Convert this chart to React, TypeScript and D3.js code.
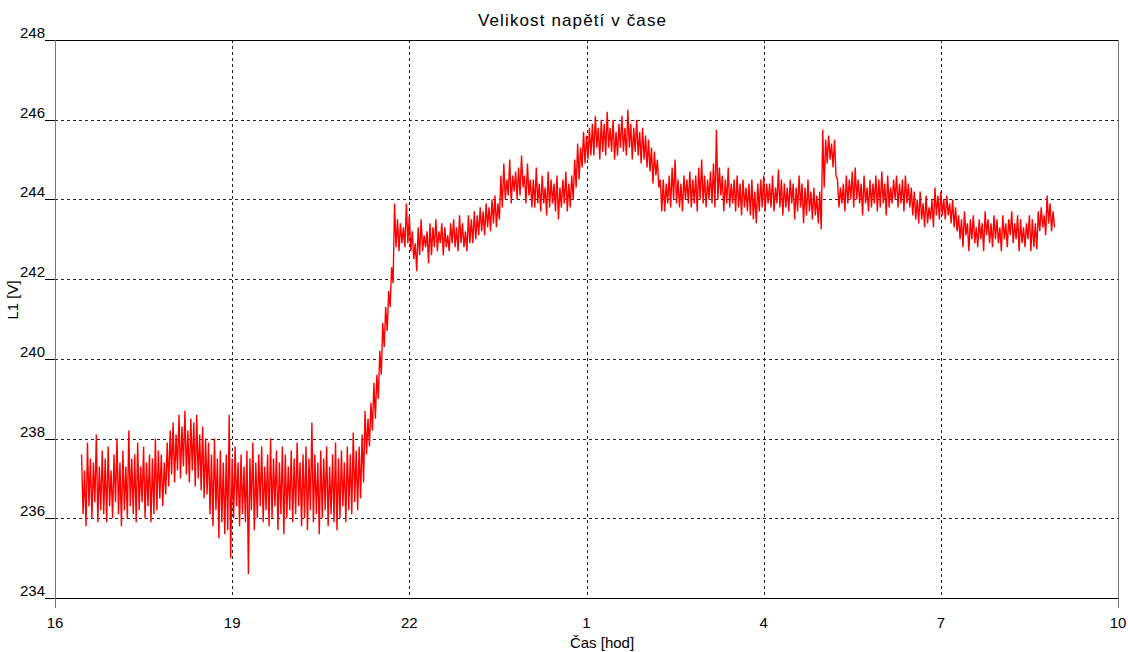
import React from "react";
import * as d3 from "d3";

const TITLE = "Velikost napětí v čase";
const X_LABEL = "Čas [hod]";
const Y_LABEL = "L1 [V]";
const X_TICKS = [16, 19, 22, 25, 28, 31, 34];
const X_TICK_LABELS = ["16", "19", "22", "1", "4", "7", "10"];
const Y_TICKS = [234, 236, 238, 240, 242, 244, 246, 248];
// 3-minute recording intervals, each with its max and min voltage
const START_HOUR = 16.45;
const STEP_HOURS = 0.05;
const V_MAX = [
  237.6, 237.2, 237.9, 237.5, 237.4, 238.1, 237.3, 237.7, 237.5, 237.8,
  237.2, 237.6, 238.0, 237.4, 237.7, 237.3, 238.2, 237.5, 237.6, 237.9,
  237.3, 237.8, 237.4, 237.6, 237.5, 238.0, 237.7, 237.6, 237.4,
  237.9, 238.2, 238.4, 238.1, 238.6, 238.3, 238.7, 238.2, 238.5, 238.4, 238.6, 238.1, 238.3, 238.0,
  237.9, 237.6, 238.0, 237.5, 237.7, 237.4, 237.6, 238.6,
  237.5, 237.8, 237.4, 237.6, 237.3, 237.7, 237.5, 237.9, 237.4, 237.6,
  237.8, 237.3, 237.6, 238.0, 237.5, 237.7, 237.4, 237.8, 237.6, 237.3,
  237.7, 237.5, 237.9, 237.4, 237.6, 237.8, 237.5, 238.4, 237.6, 237.4,
  237.7, 237.5, 237.8, 237.3, 237.6, 237.9, 237.5, 237.7, 237.4, 237.8,
  237.6, 238.15, 237.7,
  237.8, 238.1, 238.7, 238.5, 238.9, 239.4, 239.6, 240.2, 240.9, 241.3, 241.7, 242.3, 243.9,
  243.5, 243.4, 243.3, 243.9, 243.6, 243.2, 242.9, 243.3, 243.5, 243.1,
  243.2, 243.4, 243.3, 243.5, 243.2, 243.4, 243.3, 243.1, 243.4, 243.5,
  243.3, 243.6, 243.4, 243.2, 243.6,
  243.5, 243.7, 243.6, 243.8, 243.7, 243.9, 243.8, 244.0, 244.1, 243.9,
  244.6, 244.9, 244.5, 245.0, 244.6, 244.7, 244.8, 245.1, 244.6, 244.9, 244.5,
  244.5, 244.8, 244.4, 244.6, 244.3, 244.7, 244.5, 244.4, 244.6, 244.3, 244.5, 244.7, 244.4, 244.6,
  245.0, 245.4, 245.3, 245.7, 245.6, 245.8,
  245.9, 246.1, 245.8, 246.0, 245.9, 246.2, 245.8, 246.0, 245.7, 245.9,
  246.1, 245.8, 246.25, 245.9, 245.8, 246.0, 245.7, 245.8, 245.6,
  245.5, 245.3, 245.2, 245.0, 244.5,
  244.5, 244.4, 244.6, 244.8, 245.0, 244.5, 244.4, 244.6, 244.5, 244.7,
  244.5, 244.6, 244.8, 245.0, 244.6, 244.5, 244.7, 244.9, 245.75, 244.8,
  244.6, 244.5, 244.8, 244.4, 244.5, 244.6, 244.4, 244.5, 244.3, 244.4,
  244.5, 244.2, 244.4, 244.5, 244.6, 244.4,
  244.4, 244.6, 244.3, 244.75, 244.5, 244.4, 244.3, 244.5, 244.4, 244.3,
  244.6, 244.4, 244.3, 244.5, 244.2, 244.3, 244.1, 244.2,
  245.75, 245.5, 245.6, 245.4, 245.5,
  244.5, 244.3, 244.4, 244.6, 244.5, 244.7, 244.8, 244.5, 244.4, 244.6,
  244.3, 244.5, 244.4, 244.6, 244.5, 244.7, 244.4, 244.6, 244.3, 244.5,
  244.6, 244.4, 244.5, 244.6, 244.4, 244.3, 244.2,
  244.0, 244.2, 243.9, 244.1, 243.8, 244.0, 244.3, 244.1,
  244.2, 244.0, 244.1, 243.9, 244.0, 243.8,
  243.6, 243.5, 243.7, 243.4, 243.5, 243.6, 243.3, 243.5, 243.4, 243.7,
  243.5, 243.4, 243.6, 243.5, 243.3, 243.6, 243.4, 243.5, 243.7, 243.4,
  243.6, 243.5, 243.3, 243.4, 243.6, 243.5, 243.4,
  243.7, 243.8, 243.6, 244.1, 243.9, 243.7,
];
const V_MIN = [
  236.1, 235.8, 236.3, 236.0, 236.4, 235.9, 236.2, 236.1, 235.9, 236.3,
  236.0, 236.4, 236.1, 235.8, 236.2, 236.0, 236.3, 236.1, 235.9, 236.2,
  236.4, 236.0, 236.3, 235.9, 236.1, 236.2, 236.5, 236.3, 236.6,
  236.8, 237.1, 236.9, 237.2, 237.0, 237.3, 237.1, 236.9, 237.2, 236.8, 237.0, 236.7, 236.5, 236.6,
  236.1, 235.8, 236.2, 235.5, 235.9, 235.6, 235.7, 235.0,
  236.0, 236.3, 235.8, 236.1, 235.9, 234.6, 236.2, 235.7, 236.0, 236.3,
  235.9, 236.2, 235.8, 236.0, 236.3, 235.7, 236.1, 235.6, 236.0, 236.2,
  235.9, 236.1, 236.3, 235.8, 236.0, 235.7, 236.2, 235.9, 236.1, 235.6,
  236.0, 236.2, 235.8, 236.1, 235.9, 235.7, 236.0, 236.3, 235.9, 236.2,
  236.1, 236.4, 236.2,
  236.5, 236.9, 237.6, 237.8, 238.2, 238.5, 239.0, 239.6, 240.3, 240.7, 241.3, 241.9, 242.8,
  242.7, 242.9, 242.8, 242.9, 242.7, 242.5, 242.2, 242.6, 242.7, 242.8,
  242.4, 242.6, 242.8, 242.7, 242.9, 242.6, 242.8, 242.7, 242.9, 242.8,
  242.7, 242.9, 242.8, 242.7, 242.9,
  242.9, 243.0, 243.1, 243.2, 243.1, 243.3, 243.2, 243.4, 243.3, 243.5,
  243.8, 244.0, 244.1, 243.9, 244.2, 244.0, 244.1, 244.3, 243.9, 244.1, 243.8,
  243.8, 243.9, 243.7, 243.9, 243.6, 243.8, 243.9, 243.7, 243.5, 243.8, 243.9, 243.7, 243.8, 244.0,
  244.3, 244.5, 244.8, 244.9, 245.0, 245.1,
  245.1, 245.3, 245.0, 245.2, 245.1, 245.3, 245.2, 245.0, 245.1, 245.3,
  245.2, 245.1, 245.3, 245.0, 245.2, 245.1, 244.9, 245.0, 244.8,
  244.7, 244.4, 244.6, 244.3, 243.7,
  243.7, 243.9, 243.8, 244.0, 243.9, 243.8, 243.7, 244.0, 243.9, 243.8,
  243.9, 243.7, 244.0, 243.9, 243.8, 244.0, 243.9, 243.8, 244.0, 244.1,
  243.7, 243.9, 243.8, 243.9, 243.7, 243.8, 243.6, 243.8, 243.7, 243.6,
  243.5, 243.4, 243.7, 243.8, 243.7, 243.9,
  243.8, 243.7, 243.9, 243.8, 243.6, 243.8, 243.7, 243.9, 243.5, 243.7,
  243.8, 243.4, 243.6, 243.7, 243.5, 243.6, 243.4, 243.25,
  244.3, 244.9, 245.0, 244.8, 244.6,
  243.8, 243.9, 243.7, 243.9, 244.0, 243.8, 244.0, 243.9, 243.6, 243.9,
  243.7, 243.8, 243.9, 243.7, 243.8, 243.9, 243.6, 243.8, 243.9, 244.0,
  243.8, 243.9, 243.7, 243.9, 243.8, 243.6, 243.5,
  243.4, 243.5, 243.3, 243.4, 243.5, 243.3, 243.6, 243.5,
  243.6, 243.5, 243.6, 243.4, 243.3, 243.2,
  243.0, 242.8, 243.1, 242.7, 243.0, 242.9, 242.8, 243.0, 242.7, 243.1,
  242.9, 242.8, 243.0, 242.9, 242.7, 243.0, 242.8, 243.1, 242.9, 243.0,
  242.7, 242.9, 242.8, 243.0, 242.7, 242.8, 242.75,
  243.2, 243.3, 243.1, 243.4, 243.2, 243.3,
];

const FONT = "Arial, 'Liberation Sans', sans-serif";

export default function App() {
  const W = 1128;
  const H = 652;
  const left = 55;
  const right = 1118;
  const top = 40;
  const bottom = 598;
  const x = d3.scaleLinear().domain([16, 34]).range([left, right]);
  const y = d3.scaleLinear().domain([234, 248]).range([bottom, top]);
  const points: [number, number][] = [];
  V_MAX.forEach((hi, i) => {
    const t = START_HOUR + i * STEP_HOURS;
    points.push([t, hi]);
    points.push([t + STEP_HOURS / 2, V_MIN[i]]);
  });
  const line = d3
    .line<[number, number]>()
    .x((d) => x(d[0]))
    .y((d) => y(d[1]));
  const path = line(points) || "";

  return (
    <svg
      width={W}
      height={H}
      style={{ position: "absolute", left: 0, top: 0, background: "#fff" }}
      fontFamily={FONT}
    >
      <rect x={0} y={0} width={W} height={H} fill="#fff" />
      {Y_TICKS.slice(1, -1).map((t) => (
        <line
          key={"gy" + t}
          x1={left}
          x2={right}
          y1={Math.round(y(t)) + 0.5}
          y2={Math.round(y(t)) + 0.5}
          stroke="#222"
          strokeDasharray="3,3"
        />
      ))}
      {X_TICKS.slice(1, -1).map((t) => (
        <line
          key={"gx" + t}
          x1={Math.round(x(t)) + 0.5}
          x2={Math.round(x(t)) + 0.5}
          y1={top}
          y2={bottom}
          stroke="#222"
          strokeDasharray="3,3"
        />
      ))}
      {Y_TICKS.map((t) => (
        <line
          key={"ty" + t}
          x1={left - 10}
          x2={left}
          y1={Math.round(y(t)) + 0.5}
          y2={Math.round(y(t)) + 0.5}
          stroke="#000"
        />
      ))}
      <line x1={left - 10} x2={right} y1={top + 0.5} y2={top + 0.5} stroke="#000" />
      <line x1={left - 10} x2={right} y1={bottom + 0.5} y2={bottom + 0.5} stroke="#000" />
      <line x1={left + 0.5} x2={left + 0.5} y1={top} y2={bottom + 10} stroke="#777" />
      <line x1={right + 0.5} x2={right + 0.5} y1={top} y2={bottom + 10} stroke="#777" />
      <path d={path} fill="none" stroke="#ff0000" strokeWidth={1.4} strokeLinejoin="miter" />
      {Y_TICKS.map((t) => (
        <text key={"ly" + t} x={left - 10} y={y(t) - 2} fontSize={15} textAnchor="end" fill="#000">
          {t}
        </text>
      ))}
      {X_TICKS.map((t, i) => (
        <text key={"lx" + t} x={x(t)} y={628} fontSize={15} textAnchor="middle" fill="#000">
          {X_TICK_LABELS[i]}
        </text>
      ))}
      <text x={572} y={26} fontSize={17} textAnchor="middle" textLength={188} lengthAdjust="spacing" fill="#000">
        {TITLE}
      </text>
      <text x={602} y={648} fontSize={15} textAnchor="middle" fill="#000">
        {X_LABEL}
      </text>
      <text transform="translate(18,300) rotate(-90)" fontSize={15} textAnchor="middle" fill="#000">
        {Y_LABEL}
      </text>
    </svg>
  );
}
